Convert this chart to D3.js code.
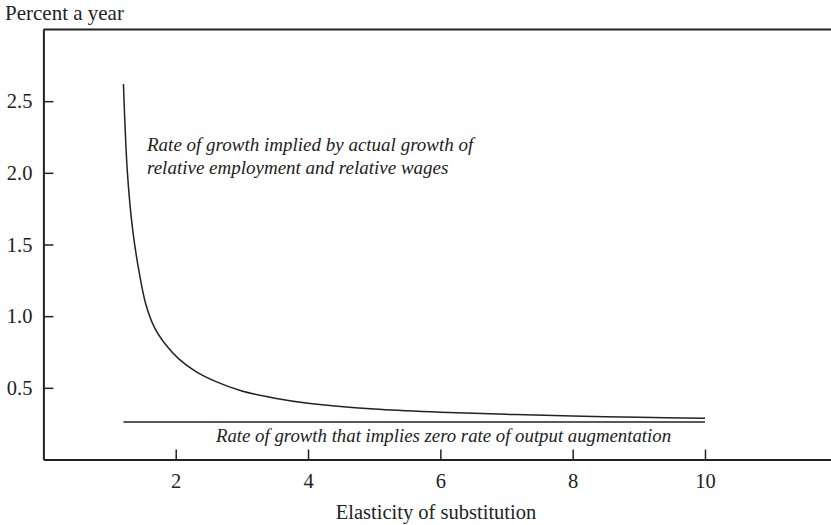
<!DOCTYPE html>
<html>
<head>
<meta charset="utf-8">
<script src="https://cdn.jsdelivr.net/npm/d3@7"></script>
<style>
  body { margin: 0; background: #fff; }
  text { font-family: "Liberation Serif", "Times New Roman", serif; fill: #222; }
</style>
</head>
<body>
<div id="chart"></div>
<script>
// elasticity of substitution vs implied growth rate (percent a year)
var sigma = [1.21, 1.27, 1.35, 1.45, 1.55, 1.68, 1.85, 2.05, 2.3, 2.6, 3.0, 3.5, 4.0, 5.0, 6.0, 7.0, 8.0, 9.0, 10.0];
var rate  = [2.62, 2.00, 1.60, 1.30, 1.08, 0.92, 0.80, 0.70, 0.615, 0.545, 0.478, 0.428, 0.393, 0.352, 0.330, 0.315, 0.303, 0.295, 0.288];
var zeroSigma = [1.21, 10.0];
var zeroRate = 0.262;
var xTicks = [2, 4, 6, 8, 10];
var yTicks = [0.5, 1.0, 1.5, 2.0, 2.5];

function init(){
    var w = 831;
    var h = 525;

    var xScale = d3.scaleLinear()
                    .domain([0, 12])
                    .range([43.4, 43.4 + 12 * 66.16]);
    var yScale = d3.scaleLinear()
                    .domain([0, 3])
                    .range([459.5, 29.5]);

    var svg = d3.select("#chart")
                .append("svg")
                .attr("width", w)
                .attr("height", h);

    // top frame line
    svg.append("line")
        .attr("x1", xScale(0)).attr("x2", w)
        .attr("y1", yScale(3)).attr("y2", yScale(3))
        .attr("stroke", "#222").attr("stroke-width", 2);

    svg.append("g")
        .attr("transform", "translate(" + xScale(0) + ",0)")
        .attr("font-family", "'Liberation Serif', serif")
        .call(d3.axisLeft(yScale)
            .tickValues(yTicks)
            .tickFormat(d3.format(".1f"))
            .tickSizeInner(-10)
            .tickSizeOuter(0)
            .tickPadding(11));

    svg.append("g")
        .attr("transform", "translate(0," + yScale(0) + ")")
        .call(d3.axisBottom(xScale)
            .tickValues(xTicks)
            .tickSizeInner(-10)
            .tickSizeOuter(0)
            .tickPadding(14));

    svg.selectAll(".domain").attr("stroke", "#222").attr("stroke-width", 2);
    svg.selectAll(".tick line").attr("stroke", "#222").attr("stroke-width", 1.5);
    svg.selectAll(".tick text")
        .style("font-family", "'Liberation Serif', serif")
        .style("font-size", "20.5px")
        .attr("fill", "#222");

    var line = d3.line()
        .x(function(d){ return xScale(d[0]); })
        .y(function(d){ return yScale(d[1]); })
        .curve(d3.curveCatmullRom.alpha(0.5));

    svg.append("path")
        .datum(d3.zip(sigma, rate))
        .attr("d", line)
        .attr("fill", "none")
        .attr("stroke", "#222")
        .attr("stroke-width", 1.5);

    svg.append("path")
        .datum(zeroSigma.map(function(s){ return [s, zeroRate]; }))
        .attr("d", d3.line()
            .x(function(d){ return xScale(d[0]); })
            .y(function(d){ return yScale(d[1]); }))
        .attr("fill", "none")
        .attr("stroke", "#222")
        .attr("stroke-width", 1.5);

    // labels
    svg.append("text")
        .attr("x", 5).attr("y", 20)
        .attr("font-size", "21px")
        .text("Percent a year");

    svg.append("text")
        .attr("x", 436).attr("y", 519)
        .attr("text-anchor", "middle")
        .attr("font-size", "20.5px")
        .text("Elasticity of substitution");

    var note = svg.append("text")
        .attr("font-size", "19px")
        .attr("font-style", "italic");
    note.append("tspan").attr("x", 147).attr("y", 151)
        .text("Rate of growth implied by actual growth of");
    note.append("tspan").attr("x", 147).attr("y", 174)
        .text("relative employment and relative wages");

    svg.append("text")
        .attr("x", 216).attr("y", 442)
        .attr("font-size", "18.8px")
        .attr("font-style", "italic")
        .text("Rate of growth that implies zero rate of output augmentation");
}

window.onload = init;
</script>
</body>
</html>
